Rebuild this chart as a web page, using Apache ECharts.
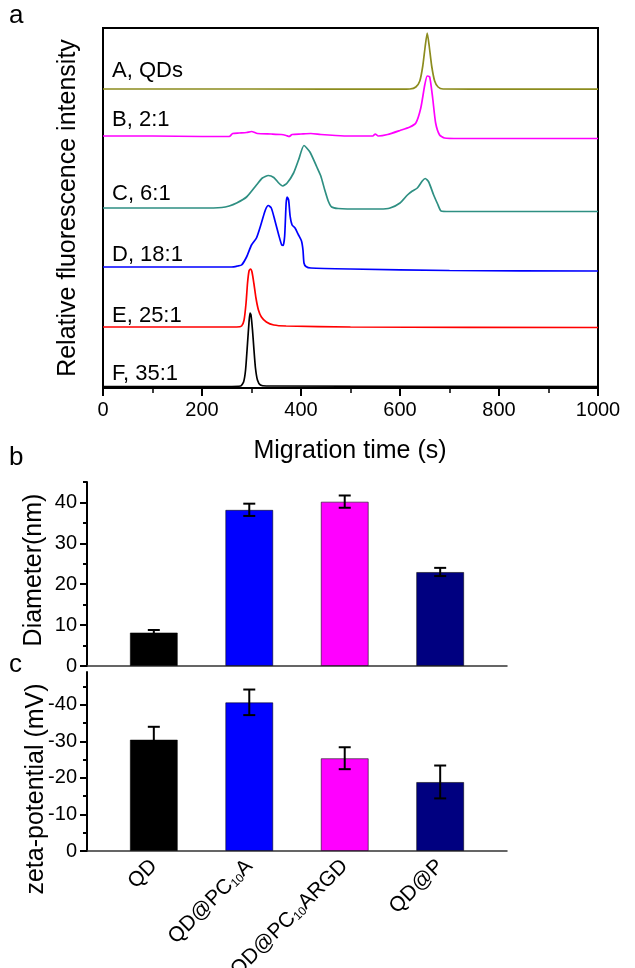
<!DOCTYPE html>
<html><head><meta charset="utf-8">
<script src="https://cdn.jsdelivr.net/npm/echarts@6/dist/echarts.min.js"></script>
<style>html,body{margin:0;padding:0;background:#fff}#c{width:635px;height:968px}</style>
</head><body><div id="c"></div>
<script>
// ---- Panel a: electropherograms (migration time s, relative intensity a.u. incl. stacking offset)
const traceA = [[0,299],[300,299],[600,298.8],[620,299],[632,301],[640,307],[646,322],[651,342],[655,355],[659,342],[664,322],[670,307],[677,301],[687,299],[800,298.8],[1000,298.8]];
const traceB = [[0,252],[100,252],[200,251.5],[255,251.5],[262,254.5],[275,255],[290,255.5],[300,256.5],[312,254.5],[340,254],[360,253.5],[370,252.5],[376,251.5],[382,253.5],[400,254],[420,254.5],[440,253.5],[470,252.5],[500,252],[545,252],[550,254],[556,252],[575,253.5],[600,257.5],[620,261],[632,265],[642,280],[650,303],[655,312],[660,311],[666,290],[672,265],[680,253],[690,250],[720,249.5],[1000,249.5]];
const traceC = [[0,180],[200,180],[240,180.5],[255,182],[270,185],[290,191],[310,203],[322,210],[334,212.5],[345,210.5],[355,205],[363,202],[372,205],[385,215],[395,228],[406,242.5],[418,236],[432,221],[440,212],[448,198],[455,187],[462,181],[475,179.5],[520,179],[560,179],[580,180],[600,185],[615,193],[625,197],[635,200],[645,207],[651,209.5],[658,206],[668,193],[676,184],[683,177],[700,176.5],[1000,176.5]];
const traceD = [[0,121],[200,121],[260,121],[272,122],[280,123],[290,131],[300,143],[310,150],[320,165],[328,178],[334,182.5],[340,180],[347,168],[355,153],[361,143],[364,142.5],[367,152],[370,185],[372,191],[375,188],[378,172],[382,163],[388,160],[395,153],[401,147],[404,138],[406,125],[410,121.5],[420,120],[500,119],[700,117.5],[1000,117]];
const traceE = [[0,61],[200,61],[270,61],[280,62],[285,68],[289,85],[292,105],[295,117],[298,119],[301,116],[305,104],[309,90],[314,78],[320,71],[330,66],[345,63],[370,62],[500,61],[1000,60.5]];
const traceF = [[0,1.5],[250,1.5],[278,2],[284,6],[288,18],[292,45],[295,66],[297,75],[299,73],[302,58],[305,38],[308,20],[312,8],[318,3],[330,2],[1000,1.5]];
const traceNames = ['A, QDs','B, 2:1','C, 6:1','D, 18:1','E, 25:1','F, 35:1'];
const traceColors = ['#8c8c1e','#ff00ff','#2e8f82','#0000ff','#ff0000','#000000'];

// ---- Panels b, c: bar charts
const catLabels = ['QD','QD@PC{sub|10}A','QD@PC{sub|10}ARGD','QD@P'];
const catPos = [1,2,3,4];
const barColors = ['#000000','#0000ff','#ff00ff','#000080'];
const diameter = [8.2,38.2,40.2,23.0];
const diameterErr = [0.6,1.5,1.5,1.0];
const zeta = [30.5,40.7,25.4,18.9];   // magnitudes; axis labels are negative
const zetaErr = [3.5,3.5,3.0,4.5];
const diamTicks = [0,10,20,30,40], diamMinor = [5,15,25,35,45];
const zetaTicks = [0,10,20,30,40], zetaMinor = [5,15,25,35,45];

const FF = '"Liberation Sans", Arial, sans-serif';
const chart = echarts.init(document.getElementById('c'));

function errRender(params, api){
  const x = api.value(0), y = api.value(1), e = api.value(2);
  const hi = api.coord([x, y+e]), lo = api.coord([x, y-e]);
  const w = 6, st = {stroke:'#000', lineWidth:2};
  return {type:'group', children:[
    {type:'line', shape:{x1:hi[0],y1:hi[1],x2:lo[0],y2:lo[1]}, style:st},
    {type:'line', shape:{x1:hi[0]-w,y1:hi[1],x2:hi[0]+w,y2:hi[1]}, style:st},
    {type:'line', shape:{x1:lo[0]-w,y1:lo[1],x2:lo[0]+w,y2:lo[1]}, style:st}
  ]};
}

const traces = [traceA,traceB,traceC,traceD,traceE,traceF];
const labelY = [71,120,194,255,316,374];
const series = traces.map((d,i)=>({type:'line', xAxisIndex:0, yAxisIndex:0, data:d, symbol:'none', smooth:0.2,
  lineStyle:{color:traceColors[i], width:1.7}, z:3}));

series.push({type:'bar', xAxisIndex:1, yAxisIndex:1, barWidth:48,
  data: catPos.map((p,i)=>({value:[p,diameter[i]], itemStyle:{color:barColors[i], borderColor:'rgba(0,0,0,0.55)', borderWidth:1}}))});
series.push({type:'custom', xAxisIndex:1, yAxisIndex:1, renderItem:errRender, z:5,
  encode:{x:0,y:1}, data: catPos.map((p,i)=>[p,diameter[i],diameterErr[i]])});
series.push({type:'bar', xAxisIndex:2, yAxisIndex:3, barWidth:48,
  data: catPos.map((p,i)=>({value:[p,zeta[i]], itemStyle:{color:barColors[i], borderColor:'rgba(0,0,0,0.55)', borderWidth:1}}))});
series.push({type:'custom', xAxisIndex:2, yAxisIndex:3, renderItem:errRender, z:5,
  encode:{x:0,y:1}, data: catPos.map((p,i)=>[p,zeta[i],zetaErr[i]])});

const axLine = {show:true, onZero:false, lineStyle:{color:'#000', width:2}};
const tickStyle = {color:'#000', width:2};
const lab = {color:'#000', fontFamily:FF};

const graphic = [
  {type:'text', left:9, top:3, style:{text:'a', fontSize:26, fontFamily:FF, fill:'#000'}},
  {type:'text', left:9, top:445, style:{text:'b', fontSize:26, fontFamily:FF, fill:'#000'}},
  {type:'text', left:9, top:652, style:{text:'c', fontSize:26, fontFamily:FF, fill:'#000'}},
  {type:'text', x:68, y:208, rotation:Math.PI/2, style:{text:'Relative fluorescence intensity', fontSize:25, fontFamily:FF, fill:'#000', align:'center', verticalAlign:'middle'}},
  {type:'text', x:350, y:451, style:{text:'Migration time (s)', fontSize:25, fontFamily:FF, fill:'#000', align:'center', verticalAlign:'middle'}},
  {type:'text', x:34, y:570, rotation:Math.PI/2, style:{text:'Diameter(nm)', fontSize:25, fontFamily:FF, fill:'#000', align:'center', verticalAlign:'middle'}},
  {type:'text', x:36, y:789, rotation:Math.PI/2, style:{text:'zeta-potential (mV)', fontSize:25, fontFamily:FF, fill:'#000', align:'center', verticalAlign:'middle'}}
];
traceNames.forEach((t,i)=>graphic.push({type:'text', x:112, y:labelY[i], style:{text:t, fontSize:22, fontFamily:FF, fill:'#000', align:'left', verticalAlign:'middle'}}));

chart.setOption({
  animation:false,
  backgroundColor:'#fff',
  grid:[
    {left:103, top:28, width:495, height:360, show:true, borderColor:'#000', borderWidth:2, backgroundColor:'transparent', outerBoundsMode:'none', containLabel:false},
    {left:87, top:482, width:420, height:184, outerBoundsMode:'none', containLabel:false},
    {left:87, top:672, width:420, height:179, outerBoundsMode:'none', containLabel:false}
  ],
  xAxis:[
    {gridIndex:0, type:'value', min:0, max:1000, interval:200, axisLine:axLine,
     axisTick:{show:true, inside:false, length:8, lineStyle:tickStyle},
     minorTick:{show:true, splitNumber:2, length:5, lineStyle:{color:'#000', width:1.5}},
     splitLine:{show:false}, minorSplitLine:{show:false},
     axisLabel:Object.assign({fontSize:20, margin:12, formatter:v=>String(v)}, lab)},
    {gridIndex:1, type:'value', min:0.3, max:4.7, axisLine:{show:true, onZero:false, lineStyle:{color:'#333', width:1.5}},
     axisTick:{show:false}, axisLabel:{show:false}, splitLine:{show:false}},
    {gridIndex:2, type:'value', min:0.3, max:4.7, axisLine:{show:true, onZero:false, lineStyle:{color:'#333', width:1.5}},
     axisTick:{show:false}, splitLine:{show:false},
     axisLabel:Object.assign({customValues:catPos, rotate:45, fontSize:21, margin:12,
       formatter:v=>catLabels[Math.round(v)-1] || '',
       rich:{sub:{fontSize:12, fontFamily:FF, color:'#000', verticalAlign:'bottom', padding:[8,0,0,0]}}}, lab)}
  ],
  yAxis:[
    {gridIndex:0, type:'value', min:0, max:360, axisLine:axLine, axisTick:{show:false}, axisLabel:{show:false}, splitLine:{show:false}},
    {gridIndex:1, type:'value', min:0, max:45, axisLine:axLine,
     axisTick:{show:true, length:7, customValues:diamTicks, lineStyle:tickStyle},
     axisLabel:Object.assign({customValues:diamTicks, fontSize:20, margin:10}, lab), splitLine:{show:false}},
    {gridIndex:1, type:'value', min:0, max:45, position:'left', offset:0, axisLine:{show:false},
     axisTick:{show:true, length:4, customValues:diamMinor, lineStyle:tickStyle}, axisLabel:{show:false}, splitLine:{show:false}},
    {gridIndex:2, type:'value', min:0, max:49, axisLine:axLine,
     axisTick:{show:true, length:7, customValues:zetaTicks, lineStyle:tickStyle},
     axisLabel:Object.assign({customValues:zetaTicks, fontSize:20, margin:10, formatter:v=>v===0?'0':'-'+v}, lab), splitLine:{show:false}},
    {gridIndex:2, type:'value', min:0, max:49, position:'left', offset:0, axisLine:{show:false},
     axisTick:{show:true, length:4, customValues:zetaMinor, lineStyle:tickStyle}, axisLabel:{show:false}, splitLine:{show:false}}
  ],
  series: series,
  graphic: graphic
});
</script></body></html>
